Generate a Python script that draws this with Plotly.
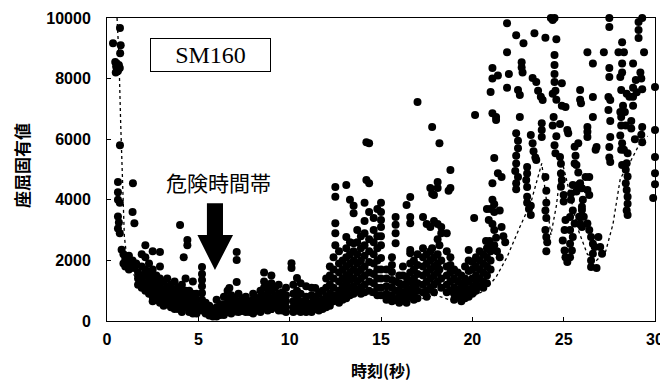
import plotly.graph_objects as go

# ---- data: (time [s], buckling eigenvalue) ----
seg_a = [(0.33,9170),(0.71,9670),(0.75,9100),(0.72,8840),(0.45,8550),(0.5,8400),(0.55,8300),(0.6,8250),(0.48,8200),(0.65,8450),(0.7,8350),
 (0.71,5800),(0.6,4590),(1.42,4550),(0.6,4250),(0.6,4000),(0.7,3900),(1.4,3600),(0.6,3450),(0.65,3250),(0.6,3050),(0.7,2900),(1.5,3230),
 (4.0,3170),(4.4,2670),(4.4,2500),(2.9,2280),(4.2,2100),(2.1,2500),(2.5,2300),(1.9,2200),
 (0.8,2350),(0.9,2200),(1.0,2050),(1.1,1950),(0.9,1900),(1.2,2150),(1.3,1850),(1.4,2000),(1.5,1750),(1.6,1900),(1.2,1700),(1.0,1800),
 (1.7,1600),(1.7,1400),(1.7,1200),(1.9,1800),(1.9,1500),(1.9,1300),(1.9,1100),
 (2.1,2100),(2.1,1700),(2.1,1500),(2.1,1250),(2.1,1000),(2.3,1900),(2.3,1600),(2.3,1350),(2.3,1100),(2.3,900),
 (2.5,1700),(2.5,1450),(2.5,1200),(2.5,1000),(2.5,800),(2.5,650),(2.7,1500),(2.7,1300),(2.7,1100),(2.7,900),(2.7,700),
 (2.9,1800),(2.9,1400),(2.9,1200),(2.9,1000),(2.9,800),(2.9,600),(3.1,1300),(3.1,1050),(3.1,850),(3.1,650),(3.1,500),
 (3.3,1400),(3.3,1150),(3.3,900),(3.3,700),(3.3,550),(3.5,1200),(3.5,1000),(3.5,800),(3.5,600),(3.5,450),
 (3.7,1300),(3.7,1050),(3.7,850),(3.7,650),(3.7,500),(3.7,400),(3.9,1100),(3.9,900),(3.9,700),(3.9,550),(3.9,400),
 (4.1,1200),(4.1,950),(4.1,750),(4.1,550),(4.1,400),(4.1,300),(4.3,1400),(4.3,1000),(4.3,800),(4.3,600),(4.3,450),
 (4.5,1000),(4.5,800),(4.5,600),(4.5,450),(4.5,300),(4.7,1300),(4.7,900),(4.7,700),(4.7,500),(4.7,350),(4.7,250),
 (4.9,900),(4.9,700),(4.9,500),(4.9,350),(4.9,250)]

seg_b = [(5.2,1780),(5.2,1550),(5.2,1350),(5.2,1150),(5.2,920),(5.2,700),(5.2,500),(5.2,350),
 (5.4,600),(5.4,400),(5.4,250),(5.6,500),(5.6,300),(5.6,180),(5.8,400),(5.8,250),(5.8,150),
 (6.0,700),(6.0,450),(6.0,250),(6.0,150),(6.2,550),(6.2,350),(6.2,200),(6.4,800),(6.4,550),(6.4,350),(6.4,200),
 (6.6,1000),(6.6,750),(6.6,500),(6.6,300),(6.7,1090),(6.8,850),(6.8,600),(6.8,400),(6.8,250),
 (7.0,700),(7.0,500),(7.0,350),(7.1,2280),(7.1,2010),(7.1,1290),(7.2,900),(7.2,650),(7.2,450),(7.2,300),
 (7.4,750),(7.4,550),(7.4,350),(7.6,800),(7.6,600),(7.6,400),(7.6,300),(7.8,650),(7.8,450),(7.8,300),
 (8.0,900),(8.0,700),(8.0,500),(8.0,350),(8.0,250),(8.2,750),(8.2,550),(8.2,400),
 (8.4,1000),(8.4,800),(8.4,600),(8.4,400),(8.4,300),(8.6,1600),(8.6,1300),(8.6,1100),(8.6,850),(8.6,650),(8.6,450),
 (8.8,1150),(8.8,900),(8.8,700),(8.8,500),(8.8,350),(9.0,1500),(9.0,1250),(9.0,1000),(9.0,750),(9.0,550),(9.0,400),
 (9.2,1100),(9.2,850),(9.2,600),(9.2,450),(9.4,1200),(9.4,900),(9.4,700),(9.4,500),(9.4,350),
 (9.6,950),(9.6,700),(9.6,500),(9.6,350),(9.8,1100),(9.8,850),(9.8,650),(9.8,450),(9.8,300)]

seg_c = [(10.1,1910),(10.1,1750),(10.2,1200),(10.2,900),(10.2,650),(10.2,450),(10.2,300),
 (10.4,1420),(10.4,1000),(10.4,750),(10.4,500),(10.4,350),(10.6,1250),(10.6,900),(10.6,650),(10.6,450),(10.6,300),
 (10.9,1150),(10.9,800),(10.9,600),(10.9,400),(10.9,300),(11.2,1100),(11.2,850),(11.2,600),(11.2,400),(11.2,300),
 (11.4,1090),(11.4,750),(11.4,550),(11.4,400),(11.6,900),(11.6,650),(11.6,450),(11.6,350),
 (11.8,1000),(11.8,700),(11.8,500),(11.8,400),(12.0,1400),(12.0,1100),(12.0,800),(12.0,600),(12.0,450),
 (12.2,1800),(12.2,1500),(12.2,1200),(12.2,900),(12.2,700),(12.2,500),
 (12.4,2100),(12.4,1700),(12.4,1400),(12.4,1100),(12.4,850),(12.4,650),
 (12.5,4420),(12.5,4100),(12.5,3230),(12.5,2900),(12.5,2500),
 (12.7,2300),(12.7,1900),(12.7,1600),(12.7,1300),(12.7,1000),(12.7,800),(12.7,600),
 (12.9,2000),(12.9,1700),(12.9,1400),(12.9,1150),(12.9,900),(12.9,700),
 (13.1,4490),(13.1,2770),(13.1,2400),(13.1,2100),(13.1,1800),(13.1,1500),(13.1,1250),(13.1,1000),(13.1,750),
 (13.3,4000),(13.3,2600),(13.3,2200),(13.3,1900),(13.3,1600),(13.3,1350),(13.3,1100),(13.3,850),
 (13.5,3800),(13.5,3560),(13.5,2570),(13.5,2300),(13.5,2000),(13.5,1700),(13.5,1400),(13.5,1150),(13.5,900),
 (13.7,3000),(13.7,2600),(13.7,2200),(13.7,1900),(13.7,1600),(13.7,1300),(13.7,1050),
 (13.9,2800),(13.9,2400),(13.9,2000),(13.9,1700),(13.9,1400),(13.9,1100),(13.9,900),
 (14.1,3900),(14.1,3300),(14.1,2900),(14.1,2500),(14.1,2150),(14.1,1800),(14.1,1500),(14.1,1200),(14.1,950),
 (14.2,5900),(14.2,4650),(14.35,5870),(14.35,4550),(14.35,3600),(14.35,2700),(14.35,2300),(14.35,1950),(14.35,1600),(14.35,1300),(14.35,1000),
 (14.6,3400),(14.6,3000),(14.6,2600),(14.6,2200),(14.6,1900),(14.6,1550),(14.6,1250),(14.6,950),
 (14.8,3700),(14.8,2800),(14.8,2400),(14.8,2000),(14.8,1700),(14.8,1400),(14.8,1100),(14.8,850),
 (15.0,3900),(15.0,3600),(15.0,3330),(15.0,3100),(15.0,2800),(15.0,2500),(15.0,2080),(15.0,1700),(15.0,1400),(15.0,1100),(15.0,850)]

seg_d = [(15.3,1700),(15.3,1400),(15.3,1150),(15.3,900),(15.3,700),
 (15.6,2100),(15.6,1850),(15.6,1620),(15.6,1350),(15.6,1100),(15.6,850),(15.6,650),
 (15.8,3430),(15.8,3180),(15.8,2900),(15.8,2570),(15.8,1300),(15.8,1000),(15.8,690),
 (16.0,1500),(16.0,1250),(16.0,1000),(16.0,800),(16.0,600),(16.2,1800),(16.2,1500),(16.2,1200),(16.2,950),(16.2,750),
 (16.4,3830),(16.4,1450),(16.4,1250),(16.4,1000),(16.4,800),(16.4,600),
 (16.6,4090),(16.6,3430),(16.6,3230),(16.6,2340),(16.6,2240),(16.6,1900),(16.6,1600),(16.6,1300),(16.6,1050),(16.6,800),
 (16.8,2000),(16.8,1700),(16.8,1400),(16.8,1150),(16.8,900),(16.8,700),
 (17.0,7230),(17.0,2200),(17.0,1850),(17.0,1550),(17.0,1250),(17.0,1000),(17.0,750),
 (17.3,3430),(17.3,2400),(17.3,2100),(17.3,1800),(17.3,1500),(17.3,1200),(17.3,950),
 (17.5,3200),(17.5,2200),(17.5,1900),(17.5,1600),(17.5,1300),(17.5,1000),(17.5,800),
 (17.7,4390),(17.7,3100),(17.7,2300),(17.7,2000),(17.7,1700),(17.7,1400),(17.7,1100),
 (17.8,6400),(17.8,4200),(17.8,2400),(17.9,4160),(17.9,3300),(17.9,2100),(17.9,1800),(17.9,1500),(17.9,1200),(17.9,950),
 (18.1,4590),(18.1,4390),(18.1,3200),(18.1,2700),(18.1,2200),(18.1,1900),(18.1,1600),(18.1,1300),
 (18.2,5870),(18.2,2500),(18.2,1700),(18.3,3100),(18.3,2900),(18.3,2000),(18.3,1400),(18.3,1100),
 (18.6,2900),(18.6,2300),(18.6,1800),(18.6,1500),(18.6,1200),(18.6,950),
 (18.8,4980),(18.8,4390),(18.7,4300),(18.8,2100),(18.8,1850),(18.8,1600),(18.8,1300),(18.8,1000),
 (19.0,1700),(19.0,1400),(19.0,1100),(19.0,900),(19.0,700),(19.2,1600),(19.2,1300),(19.2,1050),(19.2,850),
 (19.4,1500),(19.4,1250),(19.4,1000),(19.4,800),(19.4,650),(19.6,1800),(19.6,1400),(19.6,1150),(19.6,900),(19.6,750),
 (19.8,2340),(19.8,2000),(19.8,1650),(19.8,1300),(19.8,1000),(19.8,800),
 (20.0,1950),(20.0,1700),(20.0,1400),(20.0,1100),(20.0,900)]

seg_e = [(20.15,6800),(21.1,6860),(21.3,6730),(21.3,6630),
 (21.9,9830),(22.4,9430),(22.8,9170),(23.4,9500),(24.0,9350),(24.6,9300),(24.3,10000),(24.4,9930),(24.5,10000),
 (21.9,8870),(22.7,8540),(22.7,8370),(22.75,8200),
 (24.5,8780),(24.5,8450),(24.5,8150),(24.5,7890),(24.55,7600),(21.1,8350),
 (21.1,8000),(21.4,8100),(21.0,7560),(21.9,7700),(22.0,8150),(22.5,7620),(22.6,7460),
 (23.3,8020),(23.5,7890),(23.6,7600),(23.75,7400),(23.85,7290),(24.4,7500),(24.6,7300),(24.9,7100),
 (22.6,6730),(23.8,6530),(23.8,6300),(23.8,6070),
 (24.45,6730),(24.4,6450),(24.6,6100),(24.5,5800),(24.55,5540),
 (23.2,6140),(23.3,5870),(23.35,5600),(23.45,5400),(23.5,5310),
 (22.4,6200),(22.5,5950),(22.5,5700),(22.4,5450),(22.4,5200),(22.35,4950),(22.5,4750),(22.4,4550),(22.4,4350),
 (23.0,5080),(23.0,4870),(22.95,4650),(23.0,4420),(23.0,4100),(23.0,3900),(23.1,3700),(23.2,3500),(23.2,3800),
 (24.0,4750),(24.05,4300),(24.05,3900),(24.0,3650),(24.05,3400),(24.0,3000),(24.05,2770),(24.1,2600),(24.05,2300),
 (21.2,5380),(21.4,4880),(21.6,4750),(21.1,4550),
 (21.1,4000),(21.2,3850),(21.0,3700),(21.2,3600),(21.5,3650),(20.1,3400),
 (20.8,3700),(20.9,3330),(21.1,3200),(21.2,3000),(21.6,3100),(21.7,2800),(21.8,2600),
 (20.75,2640),(20.95,2640),(21.0,2500),(21.2,2500),(21.3,2750),(21.35,2300),(21.5,2100),
 (20.2,2100),(20.2,1800),(20.2,1500),(20.2,1250),(20.2,1000),
 (20.4,2300),(20.4,2000),(20.4,1700),(20.4,1400),(20.4,1150),
 (20.6,2200),(20.6,1900),(20.6,1600),(20.6,1300),(20.6,1100),
 (20.8,2400),(20.8,2100),(20.8,1800),(20.8,1500),(20.8,1250),
 (21.0,2300),(21.0,2000),(21.0,1700)]

seg_f = [(27.5,10000),(27.5,9700),(29.1,9870),(29.3,10000),(29.1,9600),(29.1,9340),
 (26.3,8870),(27.2,8870),(28.0,8870),(28.3,8870),(28.2,9200),(29.4,8870),(26.6,8500),
 (27.5,8350),(27.5,8050),(28.2,8500),(28.2,8200),(28.1,8050),
 (28.8,8500),(29.2,8200),(29.25,8000),(28.95,7950),(28.8,7700),(30.0,7720),
 (25.9,7620),(25.9,7300),(25.95,7190),(26.6,7390),(27.45,7390),(27.55,7290),
 (28.15,7620),(28.45,7500),(28.6,7400),(28.8,7400),(29.3,7650),(29.0,7550),(28.8,7100),(28.25,7100),(28.35,6900),(28.1,6900),
 (25.1,7060),(24.9,7850),(26.6,6730),(26.3,6400),(26.3,6250),(26.3,6070),
 (27.45,6960),(27.55,6600),(27.55,6070),
 (28.15,6730),(28.15,6450),(28.1,6120),(28.4,6450),(28.7,6600),(28.7,6350),(28.9,6000),(29.3,6400),(29.25,6150),(29.3,5900),(30.0,6300),
 (25.2,6300),(25.25,6200),(24.8,6500),
 (25.8,5870),(25.6,5750),(25.65,5450),(25.6,5200),(25.7,5150),(25.8,4900),(25.9,4550),
 (26.8,5740),(26.75,5650),(27.5,5740),(27.5,5400),(27.55,5250),
 (28.2,5870),(28.15,5650),(28.3,5650),(28.5,5540),(28.45,5210),(28.2,5150),(28.4,4990),(28.5,4770),(28.4,4550),
 (28.45,4320),(28.5,4100),(28.5,3870),(28.45,3650),(28.5,3500),
 (30.0,5410),(30.0,4880),(30.0,4510),(29.9,4060),
 (24.8,5410),(24.85,5190),(24.85,4870),(24.9,4650),(24.85,4430),(25.0,4160),(25.0,3940),
 (25.5,4490),(25.8,4490),(26.0,4380),(25.7,4270),(25.4,4210),
 (26.2,4750),(26.4,4750),(26.3,4320),(26.4,4160),(26.05,4000),(26.0,3770),
 (25.4,4000),(25.5,3650),(25.35,3430),(25.6,3220),(25.35,3000),(25.5,2770),(25.35,2550),(25.45,2330),(25.35,2100),
 (25.1,3330),(25.05,3000),(24.95,2660),(25.05,2330),(25.1,2100),(25.2,1950),
 (26.0,3660),(25.85,3440),(25.9,3220),(26.0,3100),(26.1,3440),(26.3,3220),(26.4,3000),(26.5,2770),(26.6,2550),
 (26.7,2440),(26.6,2220),(26.5,2000),(26.5,1780),(26.8,1750),(26.9,2770),(27.0,2440),(27.1,2220)]

# dotted lower curve
env_t = [0.55,0.65,0.75,0.85,0.95,1.1,1.5,2,3,4,5,6,7,8,9,10,11,12,13,14,15,16,17,18,19,20,
         20.7,21.3,21.9,22.6,23.2,23.8,24.0,24.3,24.6,24.9,25.3,25.8,26.3,26.8,27.3,27.7,28.1,28.6,29.2,29.6]
env_v = [10000,8800,6500,4300,2800,2000,1500,1100,700,450,280,180,200,250,280,300,350,450,700,900,800,600,700,850,650,800,
         1020,1450,2110,3100,3900,5200,4300,2840,3800,5300,4300,3000,2200,2000,2300,3200,4700,5200,5900,6100]

x_ticks = [0, 5, 10, 15, 20, 25, 30]
y_ticks = [0, 2000, 4000, 6000, 8000, 10000]
y_tick_labels = ["0", "2000", "4000", "6000", "8000", "10000"]

pts = seg_a + seg_b + seg_c + seg_d + seg_e + seg_f
xs = [p[0] for p in pts]
ys = [p[1] for p in pts]

fig = go.Figure()
fig.add_trace(go.Scatter(x=env_t, y=env_v, mode="lines",
                         line=dict(color="black", width=1.3, dash="dot"),
                         hoverinfo="skip", showlegend=False))
fig.add_trace(go.Scatter(x=xs, y=ys, mode="markers",
                         marker=dict(color="black", size=8, line=dict(width=0)),
                         cliponaxis=False, showlegend=False))

tickfont = dict(family="Liberation Sans, Arial", size=16, color="black", weight="bold")
fig.update_xaxes(range=[0, 30], tickvals=x_ticks, ticks="inside", ticklen=4, tickcolor="black",
                 showline=True, linecolor="black", linewidth=1, mirror=True, showgrid=False,
                 zeroline=False, tickfont=tickfont, ticklabelstandoff=4, automargin=False)
fig.update_yaxes(range=[0, 10000], tickvals=y_ticks, ticktext=y_tick_labels, ticks="inside", ticklen=4,
                 tickcolor="black", showline=True, linecolor="black", linewidth=1, mirror=True,
                 showgrid=False, zeroline=False, tickfont=tickfont, ticklabelstandoff=12, automargin=False)

# danger-zone arrow (block arrow)
fig.add_shape(type="path", xref="x", yref="y",
              path="M 5.47,3890 L 6.35,3890 L 6.35,2840 L 6.90,2840 L 5.91,1680 L 4.95,2840 L 5.47,2840 Z",
              fillcolor="black", line=dict(color="black", width=0))

# the page body adds an 8px offset, so the figure is 8px smaller than the window
fig.update_layout(
    width=660, height=378,
    margin=dict(l=99, r=13, t=10, b=65),
    paper_bgcolor="white", plot_bgcolor="white",
    annotations=[
        dict(x=5.64, y=8780, xref="x", yref="y", text="SM160", showarrow=False,
             font=dict(family="Liberation Serif, Times New Roman", size=24, color="black"),
             bordercolor="black", borderwidth=1, borderpad=1, bgcolor="white",
             width=117, height=30, xanchor="center", yanchor="middle"),
        dict(x=6.08, y=4590, xref="x", yref="y", text="危険時間帯", showarrow=False,
             xanchor="center", yanchor="middle",
             font=dict(family="Noto Sans CJK JP", size=21, color="black")),
        dict(x=-0.155, y=0.512, xref="paper", yref="paper", text="<b>座屈固有値</b>", showarrow=False,
             textangle=-90, xanchor="center", yanchor="middle",
             font=dict(family="Noto Sans CJK JP", size=17, color="black")),
        dict(x=0.5, y=-0.162, xref="paper", yref="paper", text="<b>時刻(秒)</b>", showarrow=False,
             xanchor="center", yanchor="middle",
             font=dict(family="Noto Sans CJK JP", size=16, color="black")),
    ],
)

fig.write_html("out.html")
